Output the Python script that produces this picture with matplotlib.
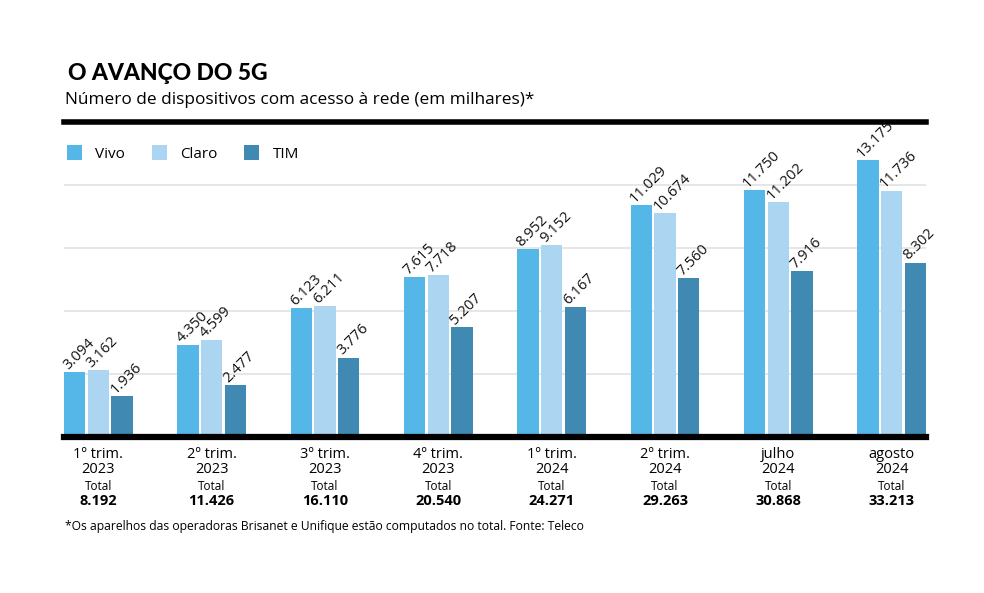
"""O avanço do 5G - dispositivos por operadora."""

import matplotlib.pyplot as plt
import numpy as np
from matplotlib.patches import Patch

periods = ["1º trim.\n2023", "2º trim.\n2023", "3º trim.\n2023", "4º trim.\n2023",
           "1º trim.\n2024", "2º trim.\n2024", "julho\n2024", "agosto\n2024"]
totals = ["8.192", "11.426", "16.110", "20.540", "24.271", "29.263", "30.868", "33.213"]

vivo = [3094, 4350, 6123, 7615, 8952, 11029, 11750, 13175]
claro = [3162, 4599, 6211, 7718, 9152, 10674, 11202, 11736]
tim = [1936, 2477, 3776, 5207, 6167, 7560, 7916, 8302]

series = [("Vivo", vivo, "#55b7e7"), ("Claro", claro, "#acd5f2"), ("TIM", tim, "#3f89b2")]

FONT = "Open Sans"


def fmt(v):
    return f"{v:,}".replace(",", ".")


fig = plt.figure(figsize=(9.84, 5.93), dpi=100)
ax = fig.add_axes([64 / 984, 156.3 / 593, 862 / 984, 314.6 / 593])

x = np.arange(len(periods))
width = 0.188
step = 0.208

for i, (name, vals, color) in enumerate(series):
    pos = x + (i - 1) * step
    ax.bar(pos, vals, width=width, color=color, zorder=3)
    for px, v in zip(pos, vals):
        ax.text(px - width / 2 + 0.035, v + 100, fmt(v), rotation=45,
                rotation_mode="anchor", ha="left", va="baseline",
                fontsize=10.6, family=FONT, color="#111111", zorder=4)

ax.set_xlim(-0.303, len(periods) - 1 + 0.303)
ax.set_ylim(0, 15000)
ax.set_yticks([3000, 6000, 9000, 12000])
ax.grid(axis="y", color="#e2e2e2", linewidth=1.2, zorder=0)
ax.tick_params(left=False, labelleft=False, bottom=False, labelbottom=False)
for side in ["left", "right"]:
    ax.spines[side].set_visible(False)
ax.spines["bottom"].set_linewidth(4.5)
ax.spines["top"].set_linewidth(4)
ax.spines["bottom"].set_zorder(5)

for xi, lab, tot in zip(x, periods, totals):
    ax.annotate(lab, (xi, 0), xytext=(0, -7.5), textcoords="offset points",
                ha="center", va="top", fontsize=10.5, family=FONT,
                linespacing=1.0, annotation_clip=False)
    ax.annotate("Total", (xi, 0), xytext=(0, -31.5), textcoords="offset points",
                ha="center", va="top", fontsize=8.5, family=FONT,
                annotation_clip=False)
    ax.annotate(tot, (xi, 0), xytext=(0, -41.5), textcoords="offset points",
                ha="center", va="top", fontsize=10.5, family=FONT,
                fontweight="bold", annotation_clip=False)

handles = [Patch(facecolor=c, label=n) for n, _, c in series]
ax.legend(handles=handles, loc="upper left", bbox_to_anchor=(-0.007, 0.955),
          ncol=3, frameon=False, prop={"family": FONT, "size": 11},
          handlelength=0.95, handleheight=1.05, columnspacing=1.75,
          handletextpad=0.9, borderaxespad=0.2)

fig.text(68 / 984, 1 - 80 / 593, "O AVANÇO DO 5G", fontsize=16.5,
         family="Lato", fontweight="black", ha="left", va="baseline")
fig.text(65 / 984, 1 - 104 / 593,
         "Número de dispositivos com acesso à rede (em milhares)*",
         fontsize=12.4, family=FONT, ha="left", va="baseline")
fig.text(65 / 984, 1 - 530 / 593,
         "*Os aparelhos das operadoras Brisanet e Unifique estão computados no total. Fonte: Teleco",
         fontsize=8.7, family=FONT, ha="left", va="baseline")

fig.savefig("out.png", dpi=100)
